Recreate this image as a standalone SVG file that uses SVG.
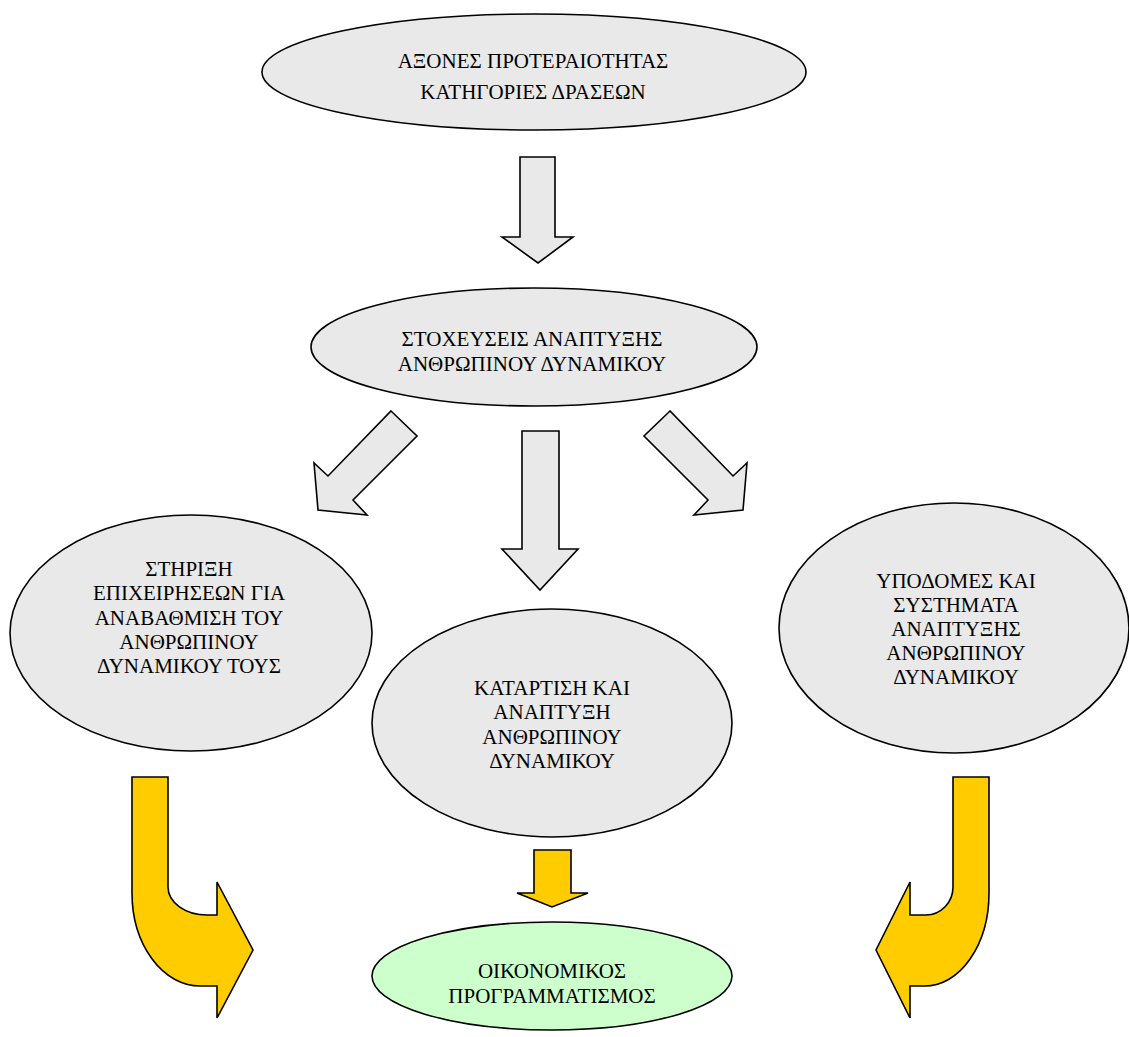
<svg xmlns="http://www.w3.org/2000/svg" width="1129" height="1037" viewBox="0 0 1129 1037">
<style>
.g{fill:#e9e9e9;stroke:#000;stroke-width:1.6}
.y{fill:#ffcc00;stroke:#000;stroke-width:1.6;stroke-linejoin:miter}
.gr{fill:#ccffcc;stroke:#000;stroke-width:1.6}
text{font-family:"Liberation Serif","Times New Roman",serif;font-size:21px;fill:#000;text-anchor:middle}
</style>
<rect width="1129" height="1037" fill="#fff"/>
<g id="connectors">
<polygon class="g" points="520,157 555,157 555,237 573,237 538,263 502,237 520,237"/>
<polygon class="g" points="391,411 417,436 353,500 367,515 318,510 314,463 328,476"/>
<polygon class="g" points="522,431 559,431 559,549 578,549 540,590 502,549 522,549"/>
<polygon class="g" points="670,411 644,436 708,500 694,515 743,510 747,463 733,476"/>
<path class="y" d="M132,777 L168,777 L168,887 A39,28 0 0 0 207,915 L217,915 L217,882 L253,950 L217,1018 L217,986 L200,986 A68,93 0 0 1 132,893 Z"/>
<polygon class="y" points="534,850 571,850 571,893 588,893 552,907 517,893 534,893"/>
<path class="y" d="M989,777 L953,777 L953,887 A27,28 0 0 1 926,915 L910,915 L910,882 L876,950 L910,1018 L910,986 L925,986 A64,93 0 0 0 989,893 Z"/>
</g>
<g id="node-axones">
<ellipse class="g" cx="534" cy="72" rx="272" ry="58"/>
<text x="533" y="68">ΑΞΟΝΕΣ ΠΡΟΤΕΡΑΙΟΤΗΤΑΣ</text>
<text x="533" y="99">ΚΑΤΗΓΟΡΙΕΣ ΔΡΑΣΕΩΝ</text>
</g>
<g id="node-stoxeuseis">
<ellipse class="g" cx="534" cy="347" rx="223" ry="59"/>
<text x="532" y="346">ΣΤΟΧΕΥΣΕΙΣ ΑΝΑΠΤΥΞΗΣ</text>
<text x="532" y="371">ΑΝΘΡΩΠΙΝΟΥ ΔΥΝΑΜΙΚΟΥ</text>
</g>
<g id="node-stirixi">
<ellipse class="g" cx="191" cy="633" rx="181" ry="118"/>
<text x="189" y="576">ΣΤΗΡΙΞΗ</text>
<text x="189" y="600">ΕΠΙΧΕΙΡΗΣΕΩΝ ΓΙΑ</text>
<text x="189" y="625">ΑΝΑΒΑΘΜΙΣΗ ΤΟΥ</text>
<text x="189" y="649">ΑΝΘΡΩΠΙΝΟΥ</text>
<text x="189" y="673">ΔΥΝΑΜΙΚΟΥ ΤΟΥΣ</text>
</g>
<g id="node-katartisi">
<ellipse class="g" cx="552" cy="723" rx="180" ry="114"/>
<text x="552" y="695">ΚΑΤΑΡΤΙΣΗ ΚΑΙ</text>
<text x="552" y="719">ΑΝΑΠΤΥΞΗ</text>
<text x="552" y="744">ΑΝΘΡΩΠΙΝΟΥ</text>
<text x="552" y="768">ΔΥΝΑΜΙΚΟΥ</text>
</g>
<g id="node-ypodomes">
<ellipse class="g" cx="954" cy="628" rx="175" ry="125"/>
<text x="956" y="588">ΥΠΟΔΟΜΕΣ ΚΑΙ</text>
<text x="956" y="612">ΣΥΣΤΗΜΑΤΑ</text>
<text x="956" y="636">ΑΝΑΠΤΥΞΗΣ</text>
<text x="956" y="660">ΑΝΘΡΩΠΙΝΟΥ</text>
<text x="956" y="684">ΔΥΝΑΜΙΚΟΥ</text>
</g>
<g id="node-oikonomikos">
<ellipse class="gr" cx="552" cy="976" rx="180" ry="54"/>
<text x="552" y="978">ΟΙΚΟΝΟΜΙΚΟΣ</text>
<text x="552" y="1003">ΠΡΟΓΡΑΜΜΑΤΙΣΜΟΣ</text>
</g>
</svg>
